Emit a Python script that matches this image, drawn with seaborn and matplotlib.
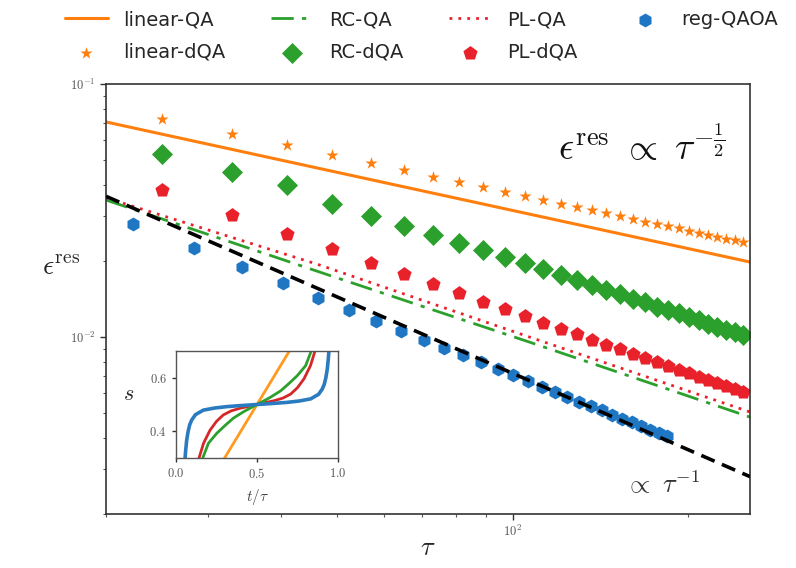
import numpy as np
import pandas as pd
import matplotlib
matplotlib.use("Agg")
import matplotlib.pyplot as plt
import seaborn as sns
from matplotlib.ticker import FuncFormatter, LogLocator, NullFormatter

# ---------------- data ----------------
tau_dqa = [25, 33, 41, 49, 57, 65, 73, 81, 89, 97, 105, 113, 121, 129, 137,
           145, 153, 161, 169, 177, 185, 193, 201, 209, 217, 225, 233, 241, 249]
linear_dqa = [0.0728, 0.0636, 0.0572, 0.0524, 0.0487, 0.0457, 0.0431, 0.0410,
              0.0392, 0.0376, 0.0361, 0.0349, 0.0337, 0.0327, 0.0318, 0.0309,
              0.0301, 0.0293, 0.0286, 0.0280, 0.0274, 0.0269, 0.0263, 0.0258,
              0.0254, 0.0249, 0.0245, 0.0241, 0.0237]
rc_dqa = [0.0528, 0.0450, 0.0400, 0.0336, 0.0301, 0.0274, 0.0253, 0.0236,
          0.0221, 0.0207, 0.0196, 0.0186, 0.0176, 0.0168, 0.0161, 0.0154,
          0.0148, 0.0142, 0.0137, 0.0132, 0.0128, 0.0124, 0.0120, 0.0117,
          0.0113, 0.0110, 0.0107, 0.0105, 0.0102]
pl_dqa = [0.0381, 0.0305, 0.0256, 0.0222, 0.0197, 0.0177, 0.0162, 0.0149,
          0.0138, 0.0129, 0.0121, 0.0114, 0.0108, 0.01026, 0.00977, 0.00934,
          0.00895, 0.00859, 0.00826, 0.00796, 0.00769, 0.00743, 0.00719,
          0.00697, 0.00676, 0.00657, 0.00639, 0.00622, 0.00605]

tau_qaoa = [22.3, 28.3, 34.3, 40.3, 46.3, 52.3, 58.3, 64.3, 70.3, 76.3, 82.3,
            88.3, 94.3, 100.3, 106.3, 112.3, 118.3, 124.3, 130.3, 136.3, 142.3,
            148.3, 154.3, 160.3, 166.3, 172.3, 178.3, 184.3]
reg_qaoa = [0.0280, 0.0225, 0.0189, 0.0163, 0.0143, 0.0128, 0.0116, 0.0106,
            0.00978, 0.00908, 0.00847, 0.00794, 0.00748, 0.00707, 0.00670,
            0.00637, 0.00607, 0.00580, 0.00556, 0.00533, 0.00513, 0.00494,
            0.00476, 0.00460, 0.00445, 0.00431, 0.00417, 0.00405]

tau_line = [20, 46.5, 107, 256]
linear_qa = [0.0708, 0.0464, 0.0306, 0.0198]
rc_qa = [0.0348, 0.0181, 0.00955, 0.00483]
pl_qa = [0.0355, 0.0193, 0.0100, 0.00506]
tau_ref = [20, 256]
ref_inv = [0.0360, 0.00281]

# inset schedules s(t/tau)
t_lin = [0.25, 0.75]
s_lin = [0.25, 0.75]
t_rc = [0.150, 0.165, 0.20, 0.251, 0.30, 0.354, 0.42, 0.5, 0.58, 0.646, 0.70,
        0.749, 0.80, 0.835, 0.85]
s_rc = [0.27, 0.30, 0.355, 0.392, 0.420, 0.449, 0.474, 0.5, 0.526, 0.551,
        0.580, 0.608, 0.645, 0.70, 0.73]
t_pl = [0.130, 0.142, 0.17, 0.21, 0.25, 0.292, 0.34, 0.395, 0.45, 0.5, 0.55,
        0.605, 0.66, 0.708, 0.75, 0.79, 0.83, 0.858, 0.87]
s_pl = [0.27, 0.30, 0.355, 0.404, 0.437, 0.461, 0.476, 0.486, 0.493, 0.5,
        0.507, 0.514, 0.524, 0.539, 0.563, 0.596, 0.645, 0.70, 0.73]
t_qaoa = [0.052, 0.056, 0.060, 0.066, 0.075, 0.085, 0.097, 0.12, 0.169, 0.24,
          0.313, 0.40, 0.5, 0.60, 0.687, 0.76, 0.831, 0.88, 0.903, 0.915,
          0.925, 0.934, 0.940, 0.944, 0.948]
s_qaoa = [0.27, 0.30, 0.33, 0.367, 0.40, 0.425, 0.442, 0.462, 0.479, 0.487,
          0.492, 0.496, 0.5, 0.504, 0.508, 0.513, 0.521, 0.538, 0.558, 0.575,
          0.600, 0.633, 0.67, 0.70, 0.73]

# ---------------- style ----------------
sns.set_theme(style="ticks")
plt.rcParams["font.family"] = ["DejaVu Sans"]
plt.rcParams["mathtext.fontset"] = "cm"

C_OR = "#ff7f0e"
C_GR = "#2ca02c"
C_RD = "#e8212b"
C_BL = "#1f77c4"

fig = plt.figure(figsize=(7.96, 5.68), dpi=100)
ax = fig.add_axes([106 / 796, 1 - 514 / 568, 644 / 796, 430 / 568])

sns.lineplot(x=tau_line, y=linear_qa, ax=ax, color=C_OR, lw=2.2, label="linear-QA")
sns.scatterplot(x=tau_dqa, y=linear_dqa, ax=ax, color=C_OR, marker="*", s=85,
                edgecolor=C_OR, linewidth=0, label="linear-dQA")
sns.lineplot(x=tau_line, y=rc_qa, ax=ax, color=C_GR, lw=2.0, label="RC-QA")
ax.lines[-1].set_linestyle((0, (8, 3, 1.5, 3)))
sns.scatterplot(x=tau_dqa, y=rc_dqa, ax=ax, color=C_GR, marker="D", s=115,
                edgecolor=C_GR, linewidth=0, label="RC-dQA")
sns.lineplot(x=tau_line, y=pl_qa, ax=ax, color=C_RD, lw=2.0, label="PL-QA")
ax.lines[-1].set_linestyle((0, (1, 2.2)))
sns.scatterplot(x=tau_dqa, y=pl_dqa, ax=ax, color=C_RD, marker="p", s=115,
                edgecolor=C_RD, linewidth=0, label="PL-dQA")
sns.scatterplot(x=tau_qaoa, y=reg_qaoa, ax=ax, color=C_BL, marker="h", s=100,
                edgecolor=C_BL, linewidth=0, label="reg-QAOA", zorder=3)
sns.lineplot(x=tau_ref, y=ref_inv, ax=ax, color="black", lw=2.6, zorder=4)
ax.lines[-1].set_linestyle((0, (4, 2.2)))

ax.set_xscale("log")
ax.set_yscale("log")
ax.set_xlim(20, 256)
ax.set_ylim(0.002, 0.1)

ax.xaxis.set_major_locator(LogLocator(base=10))
ax.yaxis.set_major_locator(LogLocator(base=10))
fmt = FuncFormatter(lambda v, p: r"$10^{%d}$" % int(round(np.log10(v))))
ax.xaxis.set_major_formatter(fmt)
ax.yaxis.set_major_formatter(fmt)
ax.xaxis.set_minor_formatter(NullFormatter())
ax.yaxis.set_minor_formatter(NullFormatter())
ax.tick_params(which="major", length=4, width=1, labelsize=9, colors="#333333",
               labelcolor="#555555")
ax.tick_params(which="minor", length=2.5, width=0.8, colors="#555555")
for sp in ax.spines.values():
    sp.set_linewidth(1.2)
    sp.set_color("#333333")

ax.set_xlabel(r"$\tau$", fontsize=19)
ax.xaxis.label.set_va("center")
ax.xaxis.set_label_coords(0.5, -0.078)
ax.set_ylabel(r"$\epsilon^{\rm res}$", fontsize=20, rotation=0)
ax.yaxis.label.set_va("center")
ax.yaxis.label.set_ha("center")
ax.yaxis.set_label_coords(-0.07, 0.575)

fig.text(725 / 796, 1 - 160 / 568, r"$\epsilon^{\rm res}\ \propto\ \tau^{-\frac{1}{2}}$",
         fontsize=27, ha="right", va="baseline", color="#111111")
fig.text(700 / 796, 1 - 493 / 568, r"$\propto\ \tau^{-1}$",
         fontsize=19, ha="right", va="baseline", color="#333333")

handles, labels = ax.get_legend_handles_labels()
order = ["linear-QA", "linear-dQA", "RC-QA", "RC-dQA", "PL-QA", "PL-dQA", "reg-QAOA"]
hmap = dict(zip(labels, handles))
ax.legend([hmap[l] for l in order], order, ncol=4, loc="lower left",
          bbox_to_anchor=(-0.085, 1.02, 1.15, 0.2), mode="expand", frameon=False,
          fontsize=14, handlelength=2.2, columnspacing=1.0, borderaxespad=0.3,
          labelspacing=0.7)

# ---------------- inset ----------------
ins = fig.add_axes([176 / 796, 1 - 458 / 568, 162 / 796, 107 / 568])
sns.lineplot(x=t_lin, y=s_lin, ax=ins, color="#ff9a1f", lw=2.0, sort=False)
sns.lineplot(x=t_pl, y=s_pl, ax=ins, color="#d62728", lw=2.0, sort=False)
sns.lineplot(x=t_rc, y=s_rc, ax=ins, color=C_GR, lw=2.0, sort=False)
sns.lineplot(x=t_qaoa, y=s_qaoa, ax=ins, color="#2a7bbf", lw=2.6, sort=False)
ins.set_xlim(0, 1)
ins.set_ylim(0.3, 0.7)
ins.set_xticks([0.0, 0.5, 1.0])
ins.set_yticks([0.4, 0.6])
ins.xaxis.set_major_formatter(FuncFormatter(lambda v, p: r"$%.1f$" % v))
ins.yaxis.set_major_formatter(FuncFormatter(lambda v, p: r"$%.1f$" % v))
ins.tick_params(length=3, width=1, labelsize=9, labelcolor="#555555", colors="#333333")
for sp in ins.spines.values():
    sp.set_linewidth(1.0)
    sp.set_color("#555555")
ins.set_xlabel(r"$t/\tau$", fontsize=11, labelpad=4, color="#444444")
ins.set_ylabel(r"$s$", fontsize=16, rotation=0, labelpad=14)
ins.yaxis.set_label_coords(-0.29, 0.5)

fig.savefig("out.png", dpi=100)
